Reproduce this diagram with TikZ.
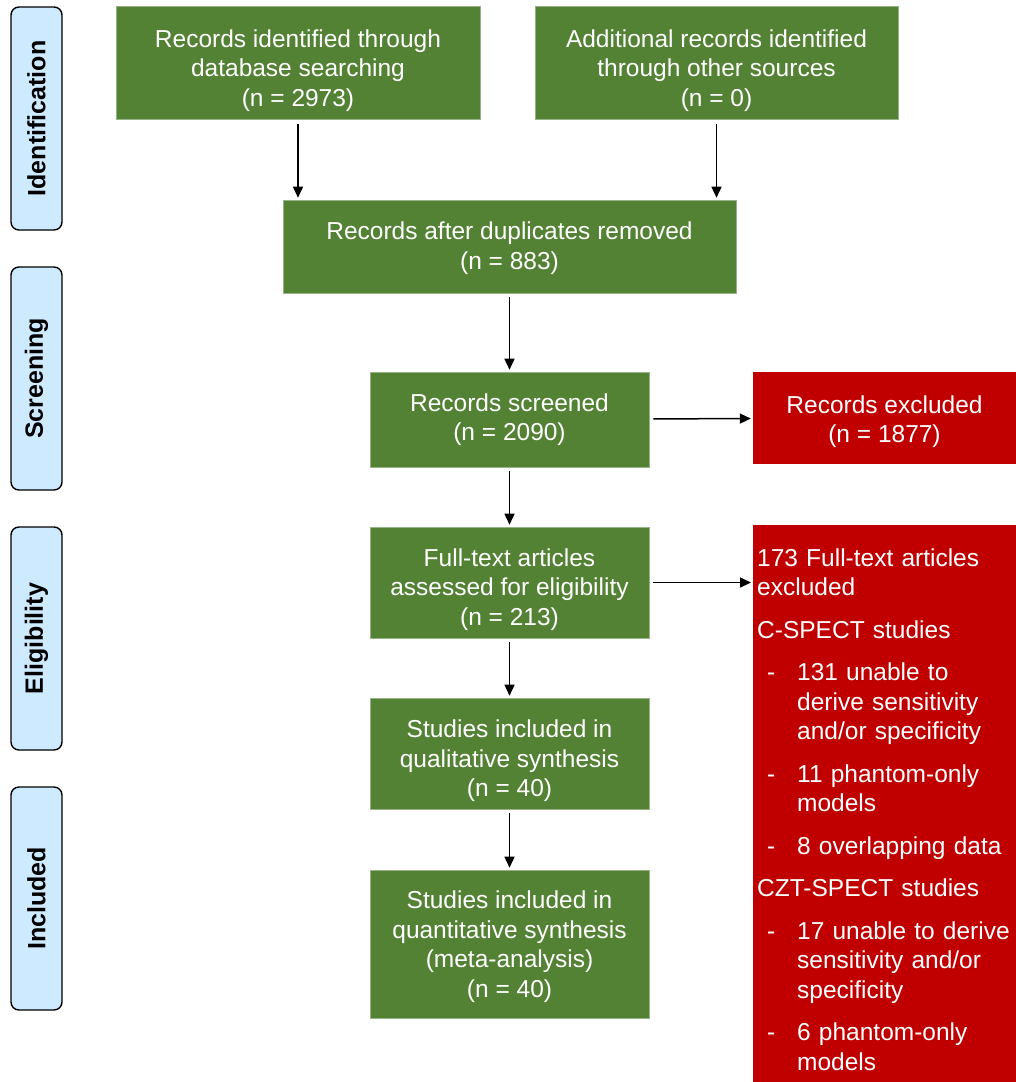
\documentclass[tikz,border=0pt]{standalone}
\usepackage{fontspec}
\setmainfont{Liberation Sans}
\usetikzlibrary{arrows.meta,positioning}
\definecolor{PrGreen}{RGB}{84,130,53}
\definecolor{PrRed}{RGB}{192,0,0}
\definecolor{PrBlue}{RGB}{206,234,255}
\newcommand{\exdash}{\makebox[40pt][l]{\hspace*{10pt}-}}
\newcommand{\exind}{\hspace*{40pt}}

\begin{document}
\begin{tikzpicture}[x=1pt,y=-1pt,font=\fontsize{24.5}{29.5}\selectfont,
  gbox/.style={fill=PrGreen,draw=PrGreen!60!white,line width=0.6pt,text=white,align=center,inner sep=0pt,minimum width=279pt},
  rbox/.style={fill=PrRed,text=white,inner sep=0pt,minimum width=263pt},
  lower/.style={execute at begin node={\rule{0pt}{#1}}},
  phase/.style={draw=black,line width=1.4pt,fill=PrBlue,rounded corners=8pt,rotate=90,
    minimum width=223pt,minimum height=51pt,inner sep=0pt,font=\fontsize{25}{28}\selectfont\bfseries},
  flow/.style={-{Triangle[length=11pt,width=10pt]},line width=1.5pt,shorten <=4pt,shorten >=2pt}]
  \useasboundingbox (0,0) rectangle (1016,1082);
  % phase labels on the left
  \foreach \i/\lab/\py in {1/Identification/118.5,2/Screening/378.5,3/Eligibility/638.5,4/Included/898.5}
    \node[phase] (p\i) at (36.5,\py) {\lab};
  % flow boxes
  \node[gbox,lower=92pt,minimum width=364pt,minimum height=113pt] (b1) at (298,63) {Records identified through\\database searching\\(n = 2973)};
  \node[gbox,lower=92pt,minimum width=363pt,minimum height=113pt] (b2) at (716.5,63) {Additional records identified\\through other sources\\(n = 0)};
  \node[gbox,lower=51pt,minimum width=453pt,minimum height=93pt] (b3) at (509.5,246.5) {Records after duplicates removed\\(n = 883)};
  \node[gbox,minimum height=95pt] (b4) at (509.5,419.5) {Records screened\\(n = 2090)};
  \node[gbox,lower=91pt,minimum height=111pt] (b5) at (509.5,582.5) {Full-text articles\\assessed for eligibility\\(n = 213)};
  \node[gbox,lower=92pt,minimum height=111pt] (b6) at (509.5,753.5) {Studies included in\\qualitative synthesis\\(n = 40)};
  \node[gbox,lower=112pt,minimum height=148pt] (b7) at (509.5,944) {Studies included in\\quantitative synthesis\\(meta-analysis)\\(n = 40)};
  % exclusions
  \node[rbox,lower=55pt,minimum height=92pt,align=center] (r1) at (884.5,418) {Records excluded\\(n = 1877)};
  \node[rbox,lower=26pt,anchor=north west,minimum height=560pt,text width=255pt,align=left] (r2) at (753,525) {173 Full-text articles\\
    excluded\\[13pt]
    C-SPECT studies\\[13pt]
    \exdash 131 unable to\\
    \exind derive sensitivity\\
    \exind and/or specificity\\[13pt]
    \exdash 11 phantom-only\\
    \exind models\\[13pt]
    \exdash 8 overlapping data\\[13pt]
    CZT-SPECT studies\\[13pt]
    \exdash 17 unable to derive\\
    \exind sensitivity and/or\\
    \exind specificity\\[13pt]
    \exdash 6 phantom-only\\
    \exind models};
  % arrows
  \draw[flow] (b1.south) -- (b1.south |- b3.north);
  \draw[flow] (b2.south) -- (b2.south |- b3.north);
  \draw[flow] (b3) -- (b4);
  \draw[flow] (b4) -- (b5);
  \draw[flow] (b5) -- (b6);
  \draw[flow] (b6) -- (b7);
  \draw[flow] (b4) -- (r1);
  \draw[flow] (b5.east) -- (b5.east -| r2.west);
\end{tikzpicture}
\end{document}
